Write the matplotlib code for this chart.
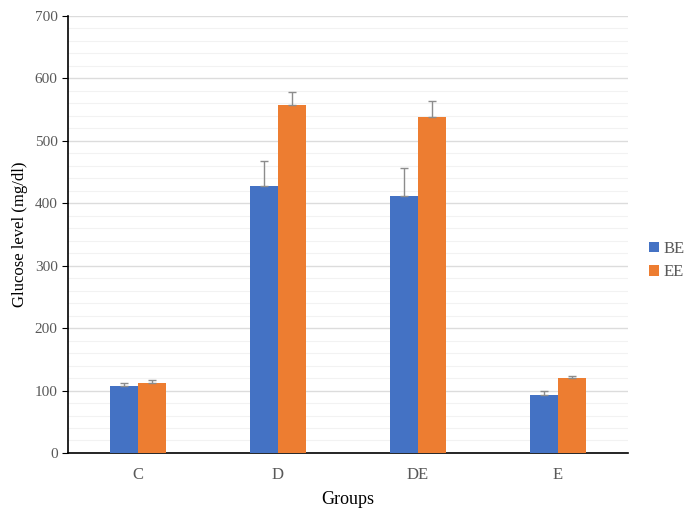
import matplotlib.pyplot as plt
import numpy as np

categories = ["C", "D", "DE", "E"]
be_values = [107, 428, 412, 93]
ee_values = [112, 558, 538, 120]
be_err = [5, 40, 45, 6]
ee_err = [5, 20, 26, 4]

plt.rcParams['font.family'] = ['Liberation Serif', 'DejaVu Serif']

fig = plt.figure(figsize=(6.89, 5.13), dpi=100)
ax = fig.add_axes([0.0987, 0.117, 0.8128, 0.8518])

x = np.arange(len(categories))
w = 0.2
ekw = dict(ecolor="#8c8c8c", elinewidth=1, capsize=3, capthick=1)
ax.bar(x - w/2, be_values, w, color="#4472C4", label="BE", zorder=3,
       yerr=[np.zeros(4), be_err], error_kw=ekw)
ax.bar(x + w/2, ee_values, w, color="#ED7D31", label="EE", zorder=3,
       yerr=[np.zeros(4), ee_err], error_kw=ekw)

ax.set_xlim(-0.5, 3.5)
ax.set_ylim(0, 700)
ax.set_yticks(np.arange(0, 701, 100))
ax.set_yticks(np.arange(0, 701, 20), minor=True)
ax.yaxis.grid(True, which='major', color="#dcdcdc", linewidth=1, zorder=0)
ax.yaxis.grid(True, which='minor', color="#f2f2f2", linewidth=0.8, zorder=0)
ax.set_axisbelow(True)
ax.set_xticks(x)
ax.set_xticklabels(categories)
ax.tick_params(axis='x', length=0, labelsize=12, colors="#595959", pad=10)
ax.tick_params(axis='y', which='major', length=4, labelsize=11, colors="black", labelcolor="#595959", direction='out')
ax.tick_params(axis='y', which='minor', length=0)

for s in ['top', 'right']:
    ax.spines[s].set_visible(False)
ax.spines['left'].set_color('black')
ax.spines['bottom'].set_color('black')
ax.spines['left'].set_linewidth(1.2)
ax.spines['bottom'].set_linewidth(1.2)

ax.set_xlabel("Groups", fontsize=13, labelpad=6)
ax.set_ylabel("Glucose level (mg/dl)", fontsize=12, labelpad=5)

leg = ax.legend(loc='center left', bbox_to_anchor=(1.01, 0.44), frameon=False,
                fontsize=12, handlelength=0.6, handleheight=0.6, handletextpad=0.3,
                labelspacing=0.45, labelcolor="#595959")

fig.savefig("out.png", dpi=100)
